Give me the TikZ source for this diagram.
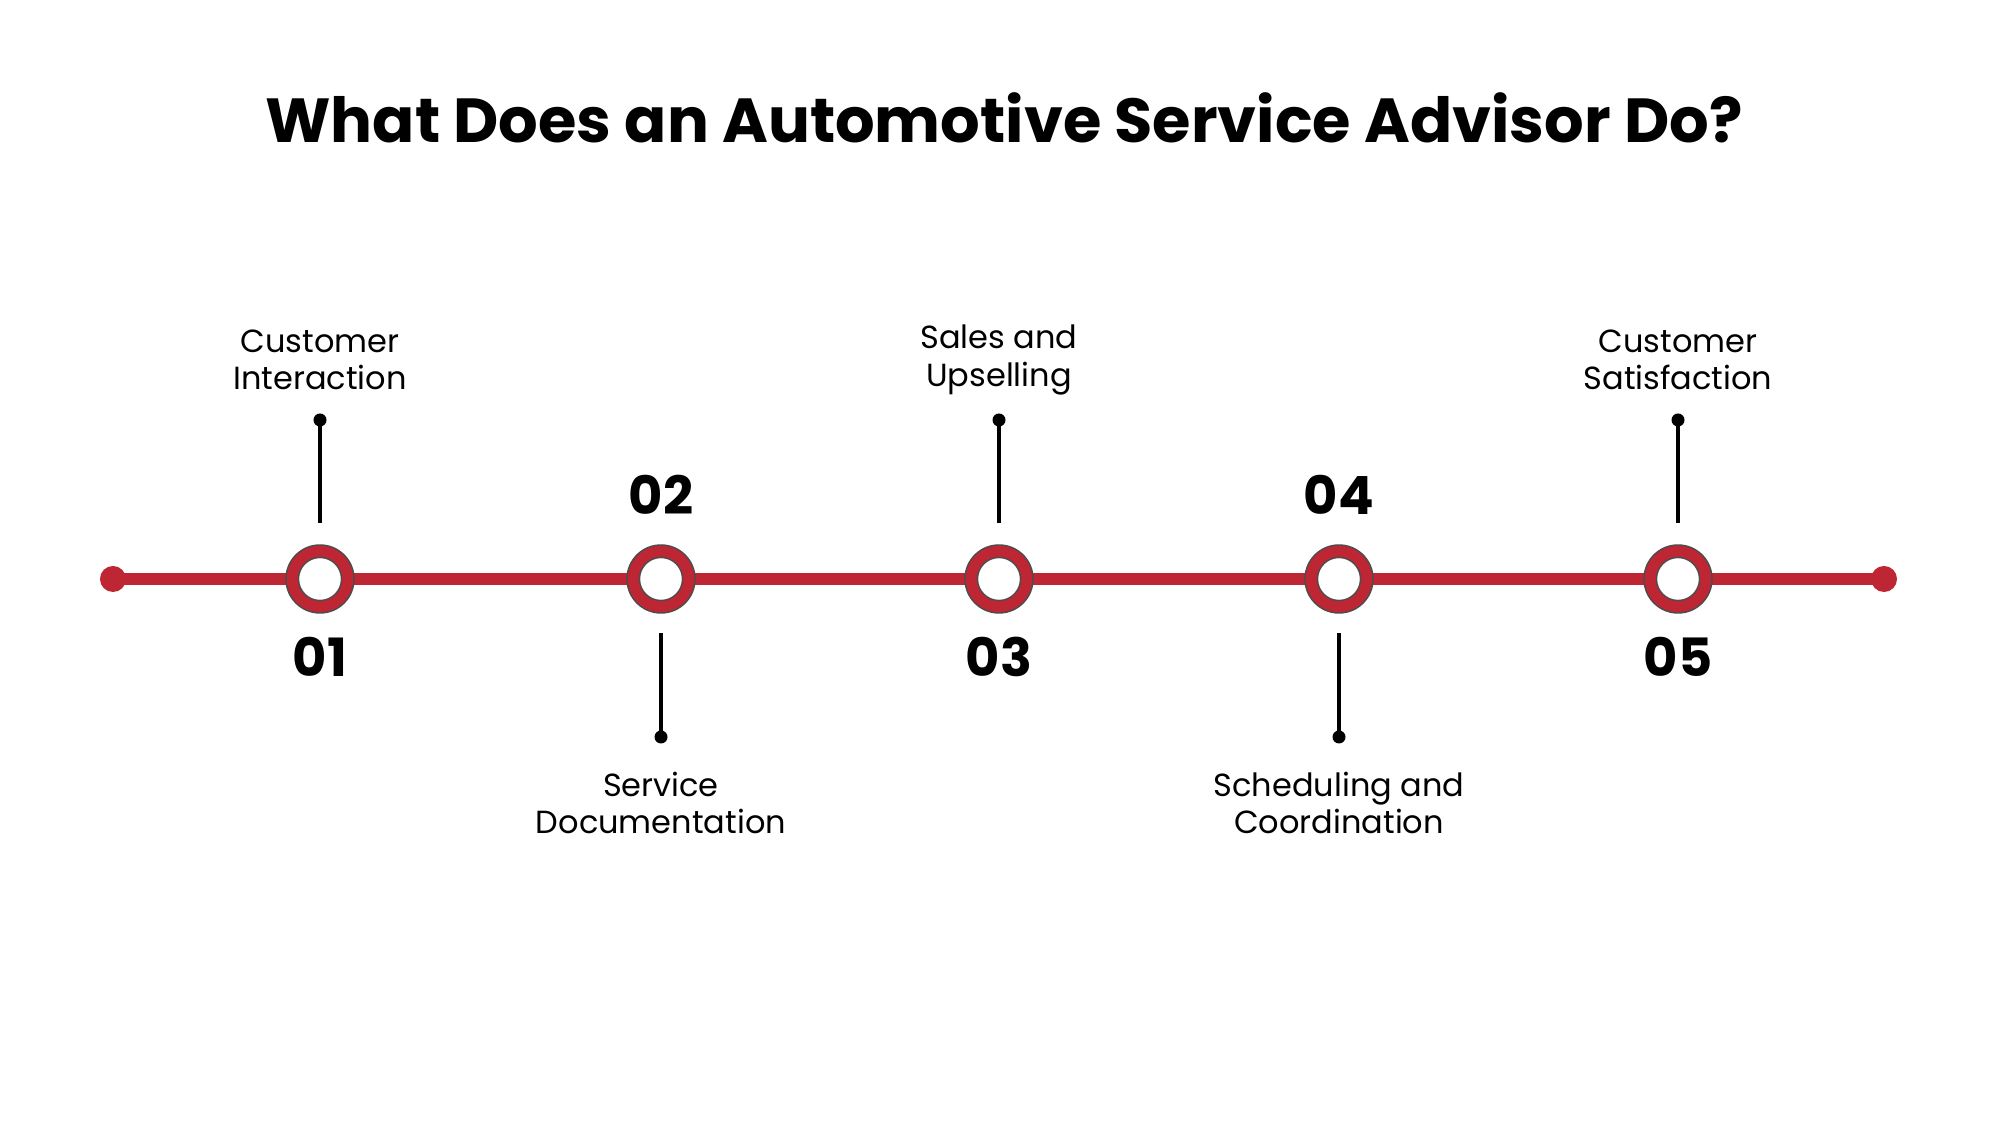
\documentclass[tikz,border=0pt]{standalone}
\usepackage{fontspec}
\setmainfont{Poppins}
\definecolor{tred}{HTML}{BE2633}
\begin{document}
\begin{tikzpicture}[x=0.01cm,y=-0.01cm,
  lbl/.style={font=\fontsize{9.1}{10.6}\selectfont,align=center},
  num/.style={font=\fontsize{15}{18}\selectfont\bfseries},
  ring/.style={circle,draw=black!70,line width=0.4pt,fill=tred,minimum size=0.68cm,inner sep=0pt,
    path picture={\fill[white,draw=black!70,line width=0.4pt] (path picture bounding box.center) circle (0.215cm);}},
  stem/.style={line width=0.9pt}]
\useasboundingbox (0,0) rectangle (1999,1125);
\node[font=\fontsize{17.7}{22}\selectfont\bfseries] (title) at (1004,118) {What Does an Automotive Service Advisor Do?};
\node[circle,fill=tred,minimum size=0.26cm,inner sep=0pt] (s) at (113,579) {};
\node[circle,fill=tred,minimum size=0.26cm,inner sep=0pt] (e) at (1884,579) {};
\draw[tred,line width=0.12cm] (s.center) -- (e.center);
\foreach \i/\x in {1/320,2/661,3/999,4/1339,5/1678}
  \node[ring] (c\i) at (\x,579) {};
\foreach \i/\x/\t in {1/320/{Customer\\Interaction},3/999/{Sales and\\Upselling},5/1678/{Customer\\Satisfaction}}{
  \node[lbl] (l\i) at (\x,360) {\t};
  \coordinate (d\i) at (\x,420);
  \fill (d\i) circle (0.065cm);
  \draw[stem] (d\i) -- (\x,523);
  \node[num] (n\i) at (\x,657) {0\i};
}
\foreach \i/\x/\t in {2/661/{Service\\Documentation},4/1339/{Scheduling and\\Coordination}}{
  \node[lbl] (l\i) at (\x,803) {\t};
  \coordinate (d\i) at (\x,737);
  \fill (d\i) circle (0.065cm);
  \draw[stem] (d\i) -- (\x,633);
  \node[num] (n\i) at (\x,495) {0\i};
}
\end{tikzpicture}
\end{document}
